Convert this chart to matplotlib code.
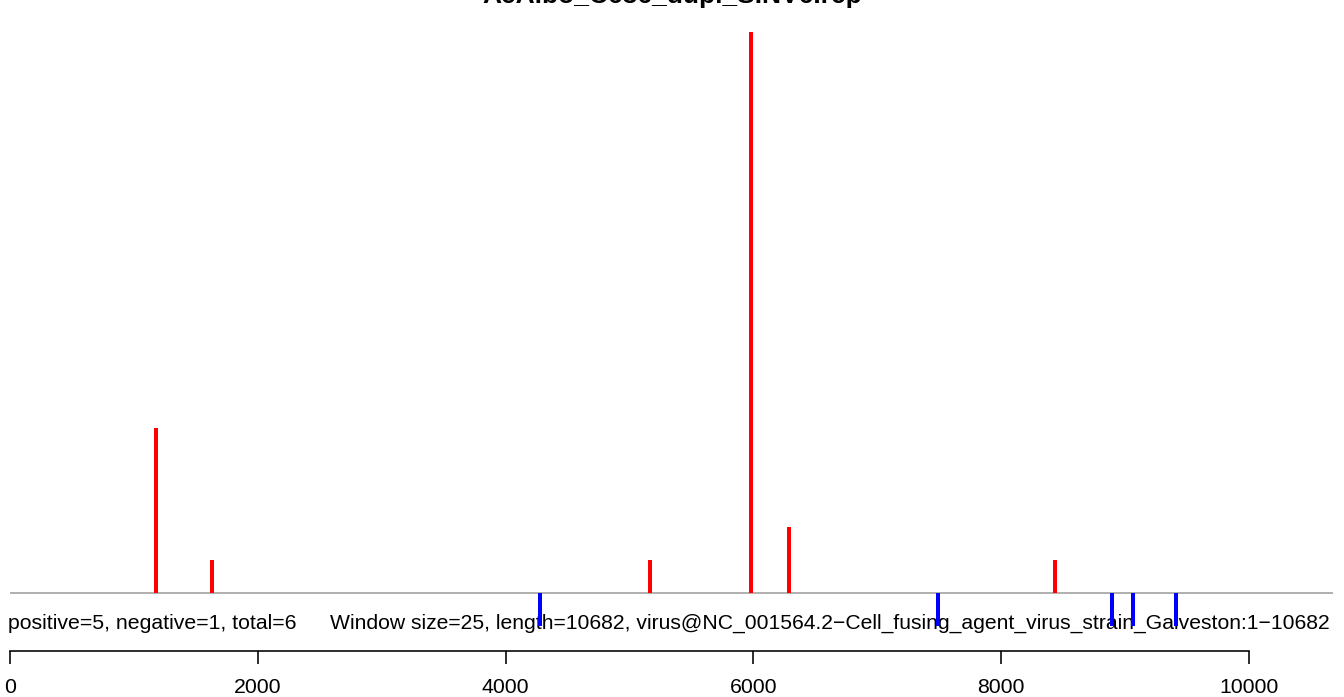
import matplotlib
matplotlib.use("Agg")
import matplotlib.pyplot as plt

plt.rcParams["font.family"] = ["Liberation Sans", "DejaVu Sans"]

title = "AeAlbo_C636_dupl_SINV6.rep"
genome_length = 10682

# positive-strand windows (red, above the baseline)
pos_sites = [1178, 1630, 5165, 5981, 6287, 8434]
pos_counts = [5, 1, 1, 17, 2, 1]

# negative-strand windows (blue, below the baseline)
neg_sites = [4278, 7490, 8894, 9064, 9411]
neg_counts = [1, 1, 1, 1, 1]

x_ticks = [0, 2000, 4000, 6000, 8000, 10000]
summary = "positive=5, negative=1, total=6"
info = ("Window size=25, length=10682, "
        "virus@NC_001564.2\u2212Cell_fusing_agent_virus_strain_Galveston:1\u221210682")

W, H, DPI = 1344, 697, 100
fig = plt.figure(figsize=(W / DPI, H / DPI), dpi=DPI)
ax = fig.add_axes([0, 0, 1, 1])

# scale: 0.1239 px per base, 33 px per count
px_per_base = 0.1239
px_per_count = 33.0
x0_px = 10
base_px = 593  # baseline row, from top
ax.set_xlim(-x0_px / px_per_base, (W - x0_px) / px_per_base)
ax.set_ylim(-(H - base_px) / px_per_count, base_px / px_per_count)

lw = 4 * 72 / DPI
ax.vlines(pos_sites, 0, pos_counts, colors="#ff0000", lw=lw, capstyle="butt", zorder=3)
ax.vlines(neg_sites, 0, [-c for c in neg_counts], colors="#0000ff", lw=lw,
          capstyle="butt", zorder=3)
ax.hlines(0, 0, genome_length, colors="#999999", lw=1.5 * 72 / DPI, zorder=2)

# labels under the baseline
fs = 15.3
text_y = -(629 - base_px) / px_per_count
ax.text(-15, text_y, summary, fontsize=fs, va="baseline", ha="left", zorder=1)
ax.text(2585, text_y, info, fontsize=15.2, va="baseline", ha="left", zorder=1)

# bottom axis drawn as a moved spine
for s in ["top", "right", "left"]:
    ax.spines[s].set_visible(False)
axis_y = -(651 - base_px) / px_per_count
ax.spines["bottom"].set_position(("data", axis_y))
ax.spines["bottom"].set_bounds(x_ticks[0], x_ticks[-1])
ax.spines["bottom"].set_linewidth(1.6 * 72 / DPI)
ax.set_xticks(x_ticks)
ax.set_xticklabels([str(t) for t in x_ticks])
ax.tick_params(axis="x", direction="out", length=13 * 72 / DPI,
               width=1.6 * 72 / DPI, pad=10, labelsize=fs)
ax.set_yticks([])
ax.patch.set_alpha(0)

fig.text(0.5, 1 - 3 / H, title, ha="center", va="baseline",
         fontsize=19, fontweight="bold")

fig.savefig("out.png", dpi=DPI)
